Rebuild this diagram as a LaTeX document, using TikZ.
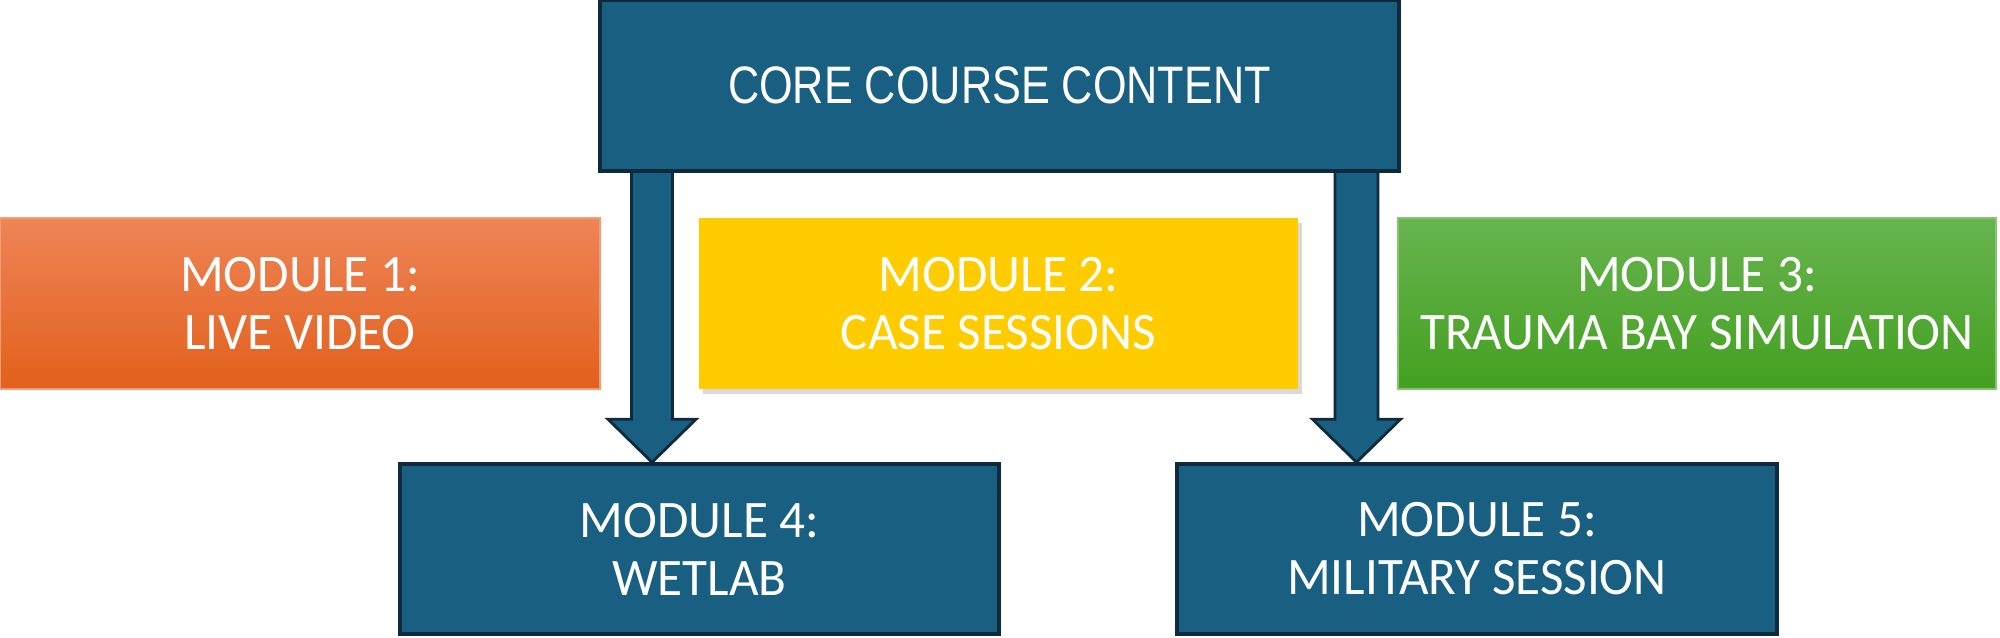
\documentclass[tikz,border=0pt]{standalone}
\usepackage{fontspec}
\usetikzlibrary{shadows,calc}
\newfontfamily\modfont[FakeStretch=0.97]{Carlito}
\newfontfamily\corefont[FakeStretch=0.82]{Liberation Sans}
\definecolor{dblue}{HTML}{185F82}
\definecolor{dborder}{HTML}{0E2A3C}
\definecolor{orgtop}{HTML}{EE8457}
\definecolor{orgbot}{HTML}{E2601B}
\definecolor{yel}{HTML}{FFCC00}
\definecolor{grntop}{HTML}{68B44F}
\definecolor{grnbot}{HTML}{43A020}
\tikzset{
  box/.style={rectangle, minimum height=1.71cm, inner sep=0pt, text=white, align=center,
    font={\modfont\fontsize{15}{16.5}\selectfont}},
  bluebox/.style={box, fill=dblue, draw=dborder, line width=1pt},
  blockarrow/.style={fill=dblue, draw=dborder, line width=0.8pt, line join=miter},
}
\begin{document}
\begin{tikzpicture}
\useasboundingbox (0,0) rectangle (20,6.37);
% nodes
\node[box, minimum width=6.0cm, top color=orgtop, bottom color=orgbot, draw=orgtop!80!white, line width=0.4pt] (m1) at (3.0,3.335) {MODULE 1:\\LIVE VIDEO};
\node[box, minimum width=5.99cm, fill=yel, drop shadow={shadow xshift=1.2pt, shadow yshift=-1.5pt, opacity=0.3}] (m2) at (9.985,3.335) {MODULE 2:\\CASE SESSIONS};
\node[box, minimum width=5.98cm, top color=grntop, bottom color=grnbot, draw=grntop!80!white, line width=0.4pt] (m3) at (16.97,3.335) {MODULE 3:\\TRAUMA BAY SIMULATION};
\node[bluebox, minimum width=5.99cm, minimum height=1.70cm] (m4) at (6.995,0.88) {MODULE 4:\\WETLAB};
\node[bluebox, minimum width=6.0cm, minimum height=1.70cm] (m5) at (14.77,0.88) {MODULE 5:\\MILITARY SESSION};
% arrow axes
\coordinate (la) at (6.52,0);
\coordinate (ra) at (13.565,0);
\coordinate (corebot) at (0,4.50);
% block arrows (drawn before the core box)
\draw[blockarrow] ($(la |- corebot)+(-0.205,0.2)$) -- ($(la |- m4.north)+(-0.205,0.43)$)
  -- ($(la |- m4.north)+(-0.44,0.43)$) -- (la |- m4.north) -- ($(la |- m4.north)+(0.44,0.43)$)
  -- ($(la |- m4.north)+(0.205,0.43)$) -- ($(la |- corebot)+(0.205,0.2)$) -- cycle;
\draw[blockarrow] ($(ra |- corebot)+(-0.215,0.2)$) -- ($(ra |- m5.north)+(-0.215,0.43)$)
  -- ($(ra |- m5.north)+(-0.44,0.43)$) -- (ra |- m5.north) -- ($(ra |- m5.north)+(0.44,0.43)$)
  -- ($(ra |- m5.north)+(0.215,0.43)$) -- ($(ra |- corebot)+(0.215,0.2)$) -- cycle;
\node[bluebox, minimum width=7.99cm, font={\corefont\fontsize{15}{16.5}\selectfont}] (core) at (9.995,5.515) {CORE COURSE CONTENT};
\end{tikzpicture}
\end{document}
